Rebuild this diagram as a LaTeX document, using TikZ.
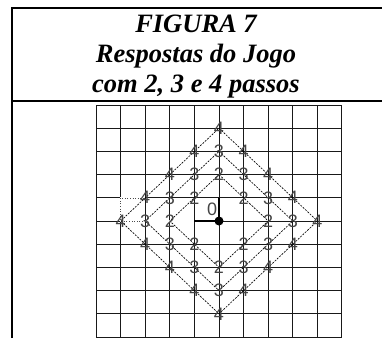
\documentclass[tikz,border=0pt]{standalone}
\usepackage{fontspec}
\setmainfont{Liberation Serif}
\newfontfamily\digitfont{Liberation Sans}
\usetikzlibrary{positioning}
\definecolor{digit}{HTML}{444444}

\begin{document}
\begin{tikzpicture}[x=1pt,y=-1pt,
    stepnum/.style={inner sep=0pt,text=digit,font=\digitfont\fontsize{18}{18}\selectfont},
    stepline/.style={black,line width=0.65pt,dash pattern=on 2pt off 1.2pt},
    title/.style={align=center,inner sep=0pt,font=\fontsize{26.5}{30}\selectfont\bfseries\itshape}]
  \useasboundingbox (0,0) rectangle (382,338);
  \draw[line width=2pt] (12,338) -- (12,8) -- (382,8);
  \draw[line width=2pt] (12,100.5) -- (382,100.5);
  \node[title] (caption) at (196,57) {FIGURA 7\\Respostas do Jogo\\com 2, 3 e 4 passos};
  \begin{scope}[shift={(219,221)},x=24.6pt,y=23.2pt]
    \draw[line width=1pt,black!90,xstep=1,ystep=1] (-5,-5) grid (5,5);
    \draw[white,line width=1.8pt] (-3,0) -- (-1,0);
    \draw[white,line width=1.8pt] (-3,0) -- (-4,0) -- (-4,1) -- (-3,1);
    \draw[black!70,dotted,line width=0.6pt] (-3,0) -- (-4,0) -- (-4,1) -- (-3,1);
    \coordinate (origin) at (0,0);
    \coordinate (left1) at (-1,0);
    \coordinate (up1) at (0,1);
    \draw[line width=1.2pt] (left1) -- (origin) -- (up1);
    \foreach \r in {2,3,4} {
      \coordinate (top\r) at (0,\r);
      \coordinate (east\r) at (\r,0);
      \coordinate (bot\r) at (0,-\r);
      \coordinate (west\r) at (-\r,0);
      \draw[stepline] (top\r) -- (east\r) -- (bot\r) -- (west\r) -- cycle;
    }
    \foreach \r in {2,3,4} {
      \foreach \dx in {-\r,...,\r} {
        \pgfmathtruncatemacro\dy{\r-abs(\dx)}
        \node[stepnum] (n\r up\dx) at (\dx,\dy) {\r};
        \ifnum\dy>0
          \node[stepnum] (n\r dn\dx) at (\dx,-\dy) {\r};
        \fi
      }
    }
    \fill[black] (origin) circle (4.5pt);
    \node[stepnum] (zero) at (-0.28,0.52) {0};
  \end{scope}
\end{tikzpicture}
\end{document}
